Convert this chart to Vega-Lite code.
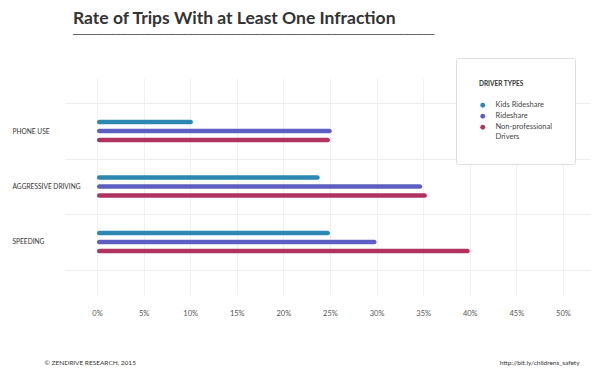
{
  "$schema": "https://vega.github.io/schema/vega-lite/v6.json",
  "autosize": "none",
  "width": 525,
  "height": 217,
  "padding": {"left": 65, "top": 78, "right": 6, "bottom": 87},
  "background": "white",
  "title": {
    "text": "Rate of Trips With at Least One Infraction",
    "subtitle": "────────────────────────────────────────────────────────────",
    "anchor": "start",
    "frame": "group",
    "dx": 8,
    "offset": 18,
    "font": "Lato",
    "fontSize": 17.5,
    "fontWeight": "bold",
    "color": "#333333",
    "subtitleFont": "DejaVu Sans",
    "subtitleFontSize": 10,
    "subtitleColor": "#555555",
    "subtitlePadding": 2
  },
  "data": {
    "values": [
      {"category": "PHONE USE", "driver": "Kids Rideshare", "rate": 10.3},
      {"category": "PHONE USE", "driver": "Rideshare", "rate": 25.2},
      {"category": "PHONE USE", "driver": "Non-professional Drivers", "rate": 25.0},
      {"category": "AGGRESSIVE DRIVING", "driver": "Kids Rideshare", "rate": 23.9},
      {"category": "AGGRESSIVE DRIVING", "driver": "Rideshare", "rate": 34.9},
      {"category": "AGGRESSIVE DRIVING", "driver": "Non-professional Drivers", "rate": 35.4},
      {"category": "SPEEDING", "driver": "Kids Rideshare", "rate": 25.0},
      {"category": "SPEEDING", "driver": "Rideshare", "rate": 30.0},
      {"category": "SPEEDING", "driver": "Non-professional Drivers", "rate": 40.0}
    ]
  },
  "mark": {"type": "bar", "cornerRadiusEnd": 2.3},
  "encoding": {
    "y": {
      "field": "category",
      "type": "nominal",
      "sort": ["PHONE USE", "AGGRESSIVE DRIVING", "SPEEDING"],
      "scale": {"paddingInner": 0, "paddingOuter": 0.455},
      "axis": {
        "title": "http://bit.ly/childrens_safety",
        "titleAngle": 0,
        "titleAlign": "right",
        "titleBaseline": "middle",
        "titleX": 514,
        "titleY": 284,
        "titleFont": "Lato",
        "titleFontSize": 6.5,
        "titleFontWeight": "normal",
        "titleColor": "#333333",
        "grid": true,
        "tickBand": "extent",
        "gridColor": "#eeeeee",
        "gridWidth": 1,
        "domain": false,
        "ticks": false,
        "tickSize": 0,
        "labelAlign": "left",
        "labelPadding": 53,
        "labelFont": "Lato",
        "labelFontSize": 6.6,
        "labelColor": "#333333"
      }
    },
    "yOffset": {
      "field": "driver",
      "type": "nominal",
      "sort": ["Kids Rideshare", "Rideshare", "Non-professional Drivers"],
      "scale": {"paddingInner": 0.478, "paddingOuter": 0, "range": [16.4, 39.1]}
    },
    "x": {
      "field": "rate",
      "type": "quantitative",
      "scale": {"domain": [-3.43, 52.9], "nice": false, "zero": false},
      "axis": {
        "values": [0, 5, 10, 15, 20, 25, 30, 35, 40, 45, 50],
        "labelExpr": "datum.value + '%'",
        "title": "© ZENDRIVE RESEARCH, 2015",
        "titleAlign": "left",
        "titleBaseline": "middle",
        "titleX": -21,
        "titleY": 67,
        "titleFont": "Lato",
        "titleFontSize": 6.5,
        "titleFontWeight": "normal",
        "titleColor": "#333333",
        "grid": true,
        "gridColor": "#f0f0f0",
        "domain": false,
        "ticks": false,
        "tickSize": 0,
        "labelPadding": 14,
        "labelFont": "Lato",
        "labelFontSize": 7.5,
        "labelColor": "#555555"
      }
    },
    "x2": {"datum": 0},
    "color": {
      "field": "driver",
      "type": "nominal",
      "sort": ["Kids Rideshare", "Rideshare", "Non-professional Drivers"],
      "scale": {
        "domain": ["Kids Rideshare", "Rideshare", "Non-professional Drivers"],
        "range": ["#2d87b3", "#5c5fc1", "#b0335f"]
      },
      "legend": {
        "title": "DRIVER TYPES",
        "orient": "none",
        "legendX": 391,
        "legendY": -20,
        "padding": 23,
        "fillColor": "white",
        "strokeColor": "#dddddd",
        "cornerRadius": 2,
        "titleFont": "Lato",
        "titleFontSize": 6.5,
        "titleFontWeight": "bold",
        "titleColor": "#333333",
        "titlePadding": 14,
        "symbolType": "circle",
        "symbolSize": 24,
        "symbolStrokeWidth": 0,
        "labelFont": "Lato",
        "labelFontSize": 7.5,
        "labelColor": "#444444",
        "labelOffset": 9,
        "rowPadding": 2,
        "labelExpr": "datum.label == 'Non-professional Drivers' ? ['Non-professional', 'Drivers'] : datum.label"
      }
    }
  },
  "config": {"view": {"stroke": null}}
}
